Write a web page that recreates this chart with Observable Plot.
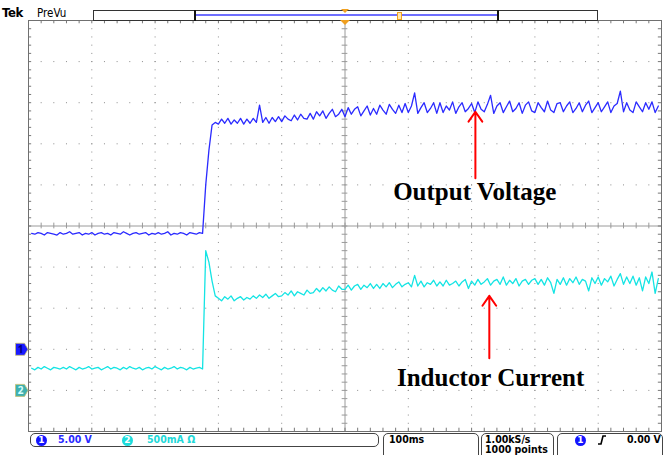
<!DOCTYPE html>
<html><head><meta charset="utf-8">
<script src="https://cdn.jsdelivr.net/npm/d3@7"></script>
<script src="https://cdn.jsdelivr.net/npm/@observablehq/plot@0.6"></script>
<style>
html,body{margin:0;padding:0;background:#fff;}
#wrap{position:relative;width:668px;height:455px;overflow:hidden;font-family:"DejaVu Sans Condensed","DejaVu Sans",sans-serif;}
#chart{position:absolute;left:0;top:0;}
.a{position:absolute;white-space:nowrap;}
.circ{position:absolute;width:11px;height:11px;border-radius:50%;color:#fff;font:bold 9px "DejaVu Sans",sans-serif;text-align:center;line-height:11px;}
.box{position:absolute;border:1px solid #444;border-radius:5px;box-sizing:border-box;}
.st{position:absolute;font-size:10.5px;font-weight:bold;font-stretch:condensed;white-space:nowrap;}
</style></head><body>
<div id="wrap">
  <div id="chart"></div>
  <!-- header -->
  <div class="a" style="left:2px;top:5px;font:bold 13px 'DejaVu Sans Condensed','DejaVu Sans',sans-serif;letter-spacing:-0.3px">Tek</div>
  <div class="a" style="left:37px;top:6px;font:11.5px 'DejaVu Sans Condensed','DejaVu Sans',sans-serif">PreVu</div>
  <div class="a" style="left:93px;top:10px;width:505px;height:11px;border:1px solid #333;box-sizing:border-box;background:#fff"></div>
  <div class="a" style="left:194px;top:10px;width:2px;height:11px;background:#111"></div>
  <div class="a" style="left:497px;top:10px;width:2px;height:11px;background:#111"></div>
  <div class="a" style="left:196px;top:14px;width:301px;height:2px;background:#6f6fff"></div>
  <div class="a" style="left:397px;top:12px;width:3px;height:6px;border:1px solid #f0a020;background:#ffe6b0"></div>
  <div class="a" style="left:341px;top:9px;width:0;height:0;border-left:4px solid transparent;border-right:4px solid transparent;border-top:4px solid #f0a020"></div>
  <div class="a" style="left:340px;top:20px;width:0;height:0;border-left:5px solid transparent;border-right:5px solid transparent;border-top:5px solid #f0a020"></div>
  <!-- footer -->
  <div class="box" style="left:30px;top:433px;width:349px;height:14px;"></div>
  <div class="circ" style="left:36px;top:434.5px;background:#1414ff">1</div>
  <div class="st" style="left:58px;top:432.5px;color:#2a2aff">5.00 V</div>
  <div class="circ" style="left:122px;top:434.5px;background:#1cdcdc">2</div>
  <div class="st" style="left:147px;top:432.5px;color:#22d8d8">500mA Ω</div>
  <div class="box" style="left:383px;top:433px;width:96px;height:30px;"></div>
  <div class="st" style="left:389px;top:432.5px;color:#000">100ms</div>
  <div class="box" style="left:481px;top:433px;width:73px;height:30px;"></div>
  <div class="st" style="left:485px;top:432.5px;color:#000">1.00kS/s</div>
  <div class="st" style="left:485px;top:443px;color:#000">1000 points</div>
  <div class="box" style="left:557px;top:433px;width:106px;height:30px;"></div>
  <div class="circ" style="left:575px;top:434.5px;background:#1414ff">1</div>
  <svg class="a" style="left:597px;top:434px" width="10" height="12"><path d="M1,10 L4,10 L6,2 L9,2" fill="none" stroke="#000" stroke-width="1.6"/></svg>
  <div class="st" style="left:627px;top:432.5px;color:#000">0.00 V</div>
</div>
<script>
// Acquisition: 5 ms between listed samples, first sample at -495 ms (trigger at 0)
const sampleStart = -495;
const sampleStep = 5;

// Channel 1: output voltage (V)
const ch1Volts = [
  14.1, 14.0, 14.2, 14.1, 13.9, 14.2, 14.1, 14.0, 13.9, 14.2,
  14.0, 14.1, 14.3, 14.0, 14.1, 14.2, 13.9, 14.1, 14.0, 14.2,
  13.9, 14.1, 14.2, 14.0, 14.1, 13.9, 14.2, 14.1, 14.0, 14.3,
  14.1, 13.9, 14.1, 14.2, 14.0, 14.1, 14.2, 13.9, 14.1, 14.0,
  14.2, 14.0, 14.1, 14.3, 13.9, 14.1, 14.0, 14.2, 14.1, 13.9,
  14.2, 14.1, 14.0, 14.2, 14.1,
  20.0, 24.2, 27.3, 27.6,
  27.4, 28.0, 27.5, 28.1, 27.4, 27.9, 27.5, 28.1, 27.4, 28.0,
  27.5, 28.1, 27.6, 29.7, 27.6, 28.2, 27.5, 28.2, 27.7, 28.3,
  27.7, 28.4, 28.0, 27.8, 28.5, 27.9, 28.6, 28.1, 28.0, 28.7,
  28.0, 28.9, 28.4, 29.0, 28.1, 28.7, 29.2, 28.3, 28.6, 29.2,
  28.3, 29.4, 28.6, 29.2, 29.5, 28.4, 29.0, 29.6, 28.5, 29.3,
  28.6, 29.7, 29.1, 28.6, 29.8, 29.2, 28.7, 29.7, 28.8, 29.9,
  28.8, 29.6, 31.2, 28.7, 29.4, 30.0, 28.8, 29.3, 30.0, 28.7,
  30.0, 28.8, 29.6, 29.1, 30.1, 28.7, 29.5, 30.0, 28.9, 29.3,
  29.9, 28.8, 30.1, 29.2, 28.9, 29.8, 30.9, 28.7, 29.6, 30.0,
  28.8, 29.5, 30.2, 28.9, 29.3, 30.0, 28.7, 29.7, 30.1, 29.0,
  28.8, 30.0, 29.4, 28.9, 30.2, 29.1, 28.8, 29.9, 30.0, 28.9,
  29.6, 30.1, 28.8, 29.3, 30.0, 28.9, 29.7, 30.2, 28.8, 29.4,
  30.0, 28.9, 29.5, 30.1, 28.8, 29.6, 29.9, 31.4, 28.9, 30.0,
  29.1, 28.8, 30.1, 29.5, 28.9, 30.0, 29.2, 30.1, 28.8, 29.6
];

// Channel 2: inductor current (A)
const ch2Amps = [
  0.27, 0.25, 0.28, 0.26, 0.29, 0.27, 0.25, 0.28, 0.27, 0.26,
  0.28, 0.26, 0.29, 0.27, 0.25, 0.28, 0.26, 0.27, 0.29, 0.26,
  0.27, 0.28, 0.25, 0.27, 0.29, 0.26, 0.28, 0.27, 0.25, 0.28,
  0.26, 0.29, 0.27, 0.26, 0.28, 0.25, 0.27, 0.28, 0.26, 0.29,
  0.27, 0.25, 0.28, 0.26, 0.27, 0.29, 0.26, 0.28, 0.27, 0.25,
  0.28, 0.26, 0.27, 0.28, 0.26,
  1.70, 1.56, 1.33, 1.15,
  1.12, 1.09, 1.14, 1.11, 1.15, 1.09, 1.12, 1.14, 1.10, 1.13,
  1.11, 1.15, 1.12, 1.16, 1.13, 1.17, 1.12, 1.15, 1.18, 1.14,
  1.15, 1.19, 1.16, 1.21, 1.15, 1.20, 1.18, 1.16, 1.22, 1.18,
  1.19, 1.24, 1.20, 1.25, 1.21, 1.26, 1.22, 1.20, 1.27, 1.23,
  1.23, 1.28, 1.22, 1.27, 1.29, 1.23, 1.28, 1.25, 1.30, 1.24,
  1.29, 1.24, 1.30, 1.26, 1.31, 1.25, 1.29, 1.32, 1.26, 1.29,
  1.31, 1.26, 1.40, 1.27, 1.33, 1.26, 1.31, 1.29, 1.34, 1.27,
  1.32, 1.27, 1.34, 1.28, 1.30, 1.33, 1.27, 1.32, 1.35, 1.24,
  1.33, 1.28, 1.35, 1.29, 1.32, 1.36, 1.28, 1.33, 1.35, 1.29,
  1.38, 1.28, 1.34, 1.30, 1.36, 1.27, 1.33, 1.35, 1.29, 1.34,
  1.36, 1.29, 1.35, 1.28, 1.37, 1.31, 1.18, 1.35, 1.29, 1.37,
  1.28, 1.36, 1.31, 1.38, 1.29, 1.35, 1.33, 1.21, 1.37, 1.30,
  1.38, 1.28, 1.36, 1.32, 1.39, 1.27, 1.35, 1.42, 1.29, 1.38,
  1.30, 1.39, 1.28, 1.37, 1.21, 1.38, 1.30, 1.44, 1.18, 1.36
];

// Vertical settings (per division) and ground positions (divisions from centre)
const ch1PerDiv = 5, ch1Ground = -3;
const ch2PerDiv = 0.5, ch2Ground = -4;

// Annotations (time in ms, position in divisions)
const labels = [
  {text: "Output Voltage", t: 205, div: 0.82},
  {text: "Inductor Current", t: 230, div: -3.69}
];
const arrows = [
  {t: 206, from: 1.16, to: 2.78},
  {t: 228, from: -3.22, to: -1.7}
];
const channelTags = [
  {ch: "1", ground: ch1Ground, fill: "#1a1aff", ink: "#000080"},
  {ch: "2", ground: ch2Ground, fill: "#3fb0b0", ink: "#d8ffff"}
];

const xDomain = [-500, 500], yDomain = [-5, 5];
const ch1 = ch1Volts.map((v, i) => ({t: sampleStart + i * sampleStep, y: v / ch1PerDiv + ch1Ground}));
const ch2 = ch2Amps.map((v, i) => ({t: sampleStart + i * sampleStep, y: v / ch2PerDiv + ch2Ground}));

const majorX = d3.range(-400, 401, 100).filter(d => d !== 0);
const majorY = d3.range(-4, 4.01, 1).filter(d => d !== 0);
const minorX = d3.range(-500, 500.1, 20);
const minorY = d3.range(-5, 5.01, 0.2);

const tagSymbol = {draw(ctx) { ctx.moveTo(-6,-6); ctx.lineTo(3,-6); ctx.lineTo(6.5,0); ctx.lineTo(3,6); ctx.lineTo(-6,6); ctx.closePath(); }};

const grid = "#8c8c8c";
const chart = Plot.plot({
  width: 668, height: 455,
  marginLeft: 28, marginRight: 7, marginTop: 20, marginBottom: 24,
  x: {domain: xDomain, axis: null},
  y: {domain: yDomain, axis: null},
  style: {background: "white", overflow: "visible"},
  marks: [
    Plot.ruleY(majorY, {stroke: grid, strokeDasharray: "1 11.66"}),
    Plot.ruleX(majorX, {stroke: grid, strokeDasharray: "1 7.22"}),
    Plot.ruleX([0], {stroke: "#9a9a9a"}),
    Plot.ruleY([0], {stroke: "#9a9a9a"}),
    Plot.ruleX(minorX, {x: d => d, y1: -0.07, y2: 0.07, stroke: "#9a9a9a"}),
    Plot.ruleY(minorY, {y: d => d, x1: -4.5, x2: 4.5, stroke: "#9a9a9a"}),
    Plot.ruleX(minorX, {x: d => d, y1: yDomain[1], y2: yDomain[1] - 0.08, stroke: "#777"}),
    Plot.ruleX(minorX, {x: d => d, y1: yDomain[0], y2: yDomain[0] + 0.08, stroke: "#777"}),
    Plot.ruleY(minorY, {y: d => d, x1: xDomain[0], x2: xDomain[0] + 5, stroke: "#777"}),
    Plot.ruleY(minorY, {y: d => d, x1: xDomain[1], x2: xDomain[1] - 5, stroke: "#777"}),
    Plot.frame({stroke: "#707070"}),
    Plot.line(ch2, {x: "t", y: "y", stroke: "#14e4e4", strokeWidth: 1.3}),
    Plot.line(ch1, {x: "t", y: "y", stroke: "#2b2bff", strokeWidth: 1.3}),
    Plot.arrow(arrows, {x1: "t", x2: "t", y1: "from", y2: "to", stroke: "#ff0000", strokeWidth: 2, headLength: 9, headAngle: 70}),
    Plot.text(labels, {x: "t", y: "div", text: "text", fontSize: 25, fontWeight: "bold", fontFamily: "'Liberation Serif','Times New Roman',serif", fill: "#000"}),
    Plot.dot(channelTags, {x: () => xDomain[0], y: "ground", dx: -7, r: 6, symbol: tagSymbol, fill: d => d.fill, stroke: "#c9c070", strokeWidth: 0.8}),
    Plot.text(channelTags, {x: () => xDomain[0], y: "ground", dx: -8, text: "ch", fill: d => d.ink, fontSize: 10, fontWeight: "bold"})
  ]
});
document.getElementById("chart").appendChild(chart);
</script>
</body></html>
